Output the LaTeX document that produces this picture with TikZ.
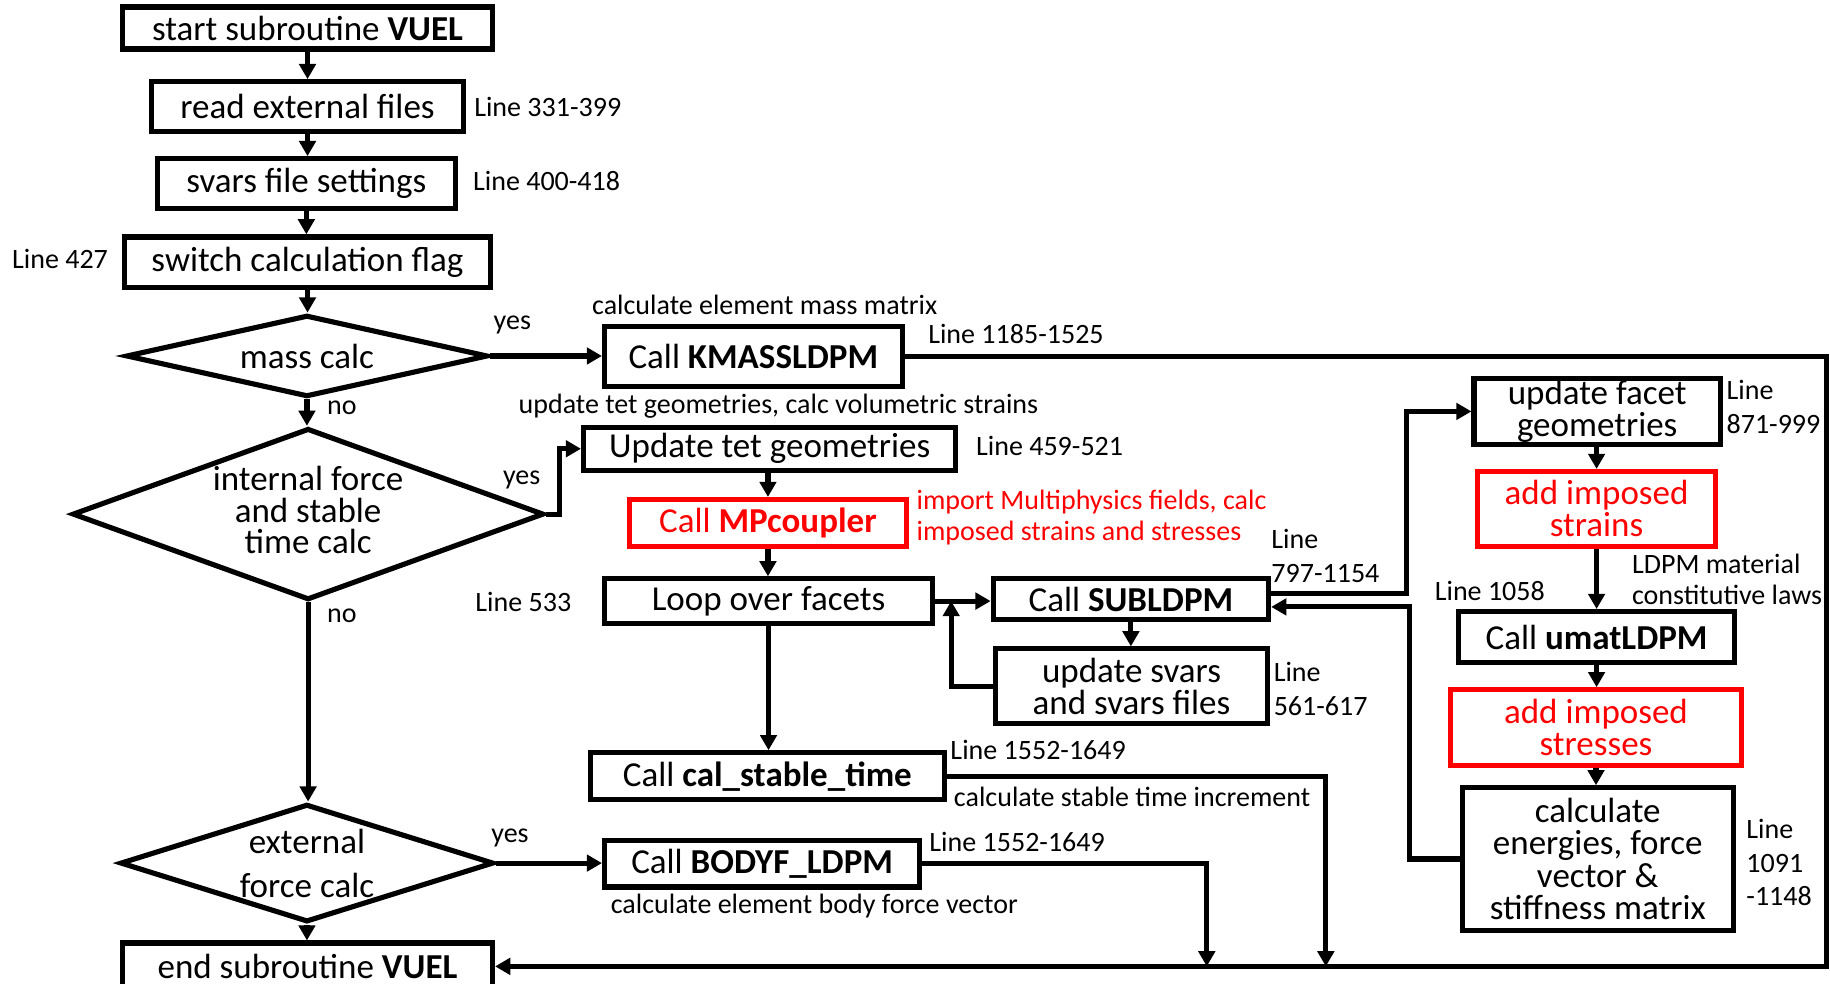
\documentclass[tikz,border=0pt]{standalone}
\usepackage{fontspec}
\setmainfont{Carlito}
\usetikzlibrary{arrows.meta,shapes.geometric}
\begin{document}
\begin{tikzpicture}[x=0.5pt,y=-0.5pt,
  box/.style={draw, line width=2.2pt, inner sep=0pt, align=center, font=\fontsize{15}{13.75}\selectfont},
  rbox/.style={box, draw=red, text=red},
  dia/.style={diamond, draw, line width=2.2pt, inner sep=0pt},
  dtxt/.style={inner sep=0pt, align=center, font=\fontsize{15}{13.5}\selectfont},
  lbl/.style={inner sep=0pt, align=left, font=\fontsize{12}{14.5}\selectfont, anchor=west},
  conn/.style={line width=2.2pt},
  arr/.style={conn, -{Triangle[length=6.5pt,width=7pt]}}
]
\useasboundingbox (0,0) rectangle (1568,843);

% left column
\node[box, minimum width=158.5pt, minimum height=18pt] (start) at (263.5,24) {start subroutine \textbf{VUEL}};
\node[box, minimum width=133.5pt, minimum height=21.5pt] (read) at (263.5,91.5) {read external files};
\node[box, minimum width=127.5pt, minimum height=21.5pt] (svars) at (262.5,157.5) {svars file settings};
\node[box, minimum width=156.5pt, minimum height=21.5pt] (switch) at (263.5,224.5) {switch calculation flag};
\node[dia, minimum width=155pt, minimum height=35pt] (dmass) at (263,305) {};
\node[dtxt] (tmass) at (263,305) {mass calc};
\node[dia, minimum width=202pt, minimum height=73.5pt] (dint) at (264,440.5) {};
\node[dtxt] (tint) at (264,437) {internal force\\and stable\\time calc};
\node[dia, minimum width=160pt, minimum height=50.5pt] (dext) at (263,739.5) {};
\node[dtxt, font=\fontsize{15}{19}\selectfont] (tex) at (263,740) {external\\force calc};
\node[box, minimum width=158.5pt, minimum height=20pt] (endb) at (263.5,828) {end subroutine \textbf{VUEL}};

% middle
\node[box, minimum width=127.5pt, minimum height=25.5pt] (kmass) at (645.5,305.5) {Call \textbf{KMASSLDPM}};
\node[box, minimum width=159.5pt, minimum height=18.5pt] (tet) at (659.5,384.5) {Update tet geometries};
\node[rbox, minimum width=119pt, minimum height=20pt] (mpc) at (658,448) {Call \textbf{MPcoupler}};
\node[box, minimum width=140.5pt, minimum height=19pt] (loop) at (658.5,515) {Loop over facets};
\node[box, minimum width=118pt, minimum height=17.5pt] (sub) at (969,513.5) {Call \textbf{SUBLDPM}};
\node[box, minimum width=116.5pt, minimum height=32pt] (usv) at (969.5,588) {update svars\\and svars files};
\node[box, minimum width=151.5pt, minimum height=20pt] (calst) at (657.5,665) {Call \textbf{cal\_stable\_time}};
\node[box, minimum width=135pt, minimum height=20pt] (bodyf) at (653,740) {Call \textbf{BODYF\_LDPM}};

% right column
\node[box, minimum width=105.5pt, minimum height=28.5pt] (facet) at (1368.5,352.5) {update facet\\geometries};
\node[rbox, minimum width=102pt, minimum height=32pt] (strain) at (1368,436) {add imposed\\strains};
\node[box, minimum width=118pt, minimum height=22pt] (umat) at (1368,546) {Call \textbf{umatLDPM}};
\node[rbox, minimum width=124.5pt, minimum height=32.5pt] (stress) at (1367.5,623.5) {add imposed\\stresses};
\node[box, minimum width=116pt, minimum height=61pt] (calc) at (1369,736) {calculate\\energies, force\\vector \&\\stiffness matrix};

% coordinates
\coordinate (jL) at (815,515);
\coordinate (jR) at (1565,828);
\coordinate (jS) at (1136,828);
\coordinate (jB) at (1034,828);

% connectors
\draw[arr] (start.south) -- (start.south |- read.north);
\draw[arr] (read.south) -- (read.south |- svars.north);
\draw[arr] (svars.south) -- (svars.south |- switch.north);
\draw[arr] (switch.south) -- (switch.south |- dmass.north);
\draw[arr] (dmass.south) -- (dmass.south |- dint.north);
\draw[arr] (dint.south) -- (dint.south |- dext.north);
\draw[arr] (dext.south) -- (dext.south |- endb.north);
\draw[arr] (dmass.east) -- (dmass.east -| kmass.west);
\draw[arr] (dint.east) -- ++(11,0) |- (tet.west);
\draw[arr] (mpc.north |- tet.south) -- (mpc.north);
\draw[arr] (mpc.south) -- (mpc.south |- loop.north);
\draw[arr] (loop.east) -- (loop.east -| sub.west);
\draw[arr] (sub.south) -- (sub.south |- usv.north);
\draw[arr] (usv.west) -| (jL);
\draw[arr] (loop.south) -- (loop.south |- calst.north);
\draw[arr] (dext.east) -- (dext.east -| bodyf.west);
\draw[arr] (kmass.east) -| (jR) -- (endb.east);
\draw[arr] (calst.east) -| (jS);
\draw[arr] (bodyf.east) -| (jB);
\draw[arr] ([yshift=2.5pt]sub.east) -- ++(116,0) |- (facet.west);
\draw[arr] (calc.west) -- ++(-43,0) |- ([yshift=-3.25pt]sub.east);
\draw[arr] (strain.north |- facet.south) -- (strain.north);
\draw[arr] (strain.south) -- (strain.south |- umat.north);
\draw[arr] (umat.south) -- (umat.south |- stress.north);
\draw[arr] (stress.south) -- (stress.south |- calc.north);

% labels
\node[lbl] (l1) at (406,92) {Line 331-399};
\node[lbl] (l2) at (405,155) {Line 400-418};
\node[lbl] (l3) at (10,222) {Line 427};
\node[lbl, anchor=center] (y1) at (439,278) {yes};
\node[lbl, anchor=center] (n1) at (293,349) {no};
\node[lbl, anchor=center] (y2) at (447,411) {yes};
\node[lbl, anchor=center] (n2) at (293,528) {no};
\node[lbl, anchor=center] (y3) at (437,718) {yes};
\node[lbl] (l4) at (507,261) {calculate element mass matrix};
\node[lbl] (l5) at (795,286) {Line 1185-1525};
\node[lbl] (l6) at (444,348) {update tet geometries, calc volumetric strains};
\node[lbl] (l7) at (836,382) {Line 459-521};
\node[lbl, text=red, font=\fontsize{12}{13.5}\selectfont] (l8) at (785,443.5) {import Multiphysics fields, calc\\imposed strains and stresses};
\node[lbl] (l9) at (407,516) {Line 533};
\node[lbl] (l10) at (1089,476.5) {Line\\797-1154};
\node[lbl] (l11) at (1091,590.5) {Line\\561-617};
\node[lbl] (l12) at (814,643) {Line 1552-1649};
\node[lbl] (l13) at (817,683) {calculate stable time increment};
\node[lbl] (l14) at (796,721) {Line 1552-1649};
\node[lbl] (l15) at (523,776) {calculate element body force vector};
\node[lbl] (l16) at (1479,348.5) {Line\\871-999};
\node[lbl, font=\fontsize{12}{13.5}\selectfont] (l17) at (1398,496.5) {LDPM material\\constitutive laws};
\node[lbl] (l18) at (1229,506) {Line 1058};
\node[lbl] (l19) at (1496,739) {Line\\1091\\-1148};
\end{tikzpicture}
\end{document}
